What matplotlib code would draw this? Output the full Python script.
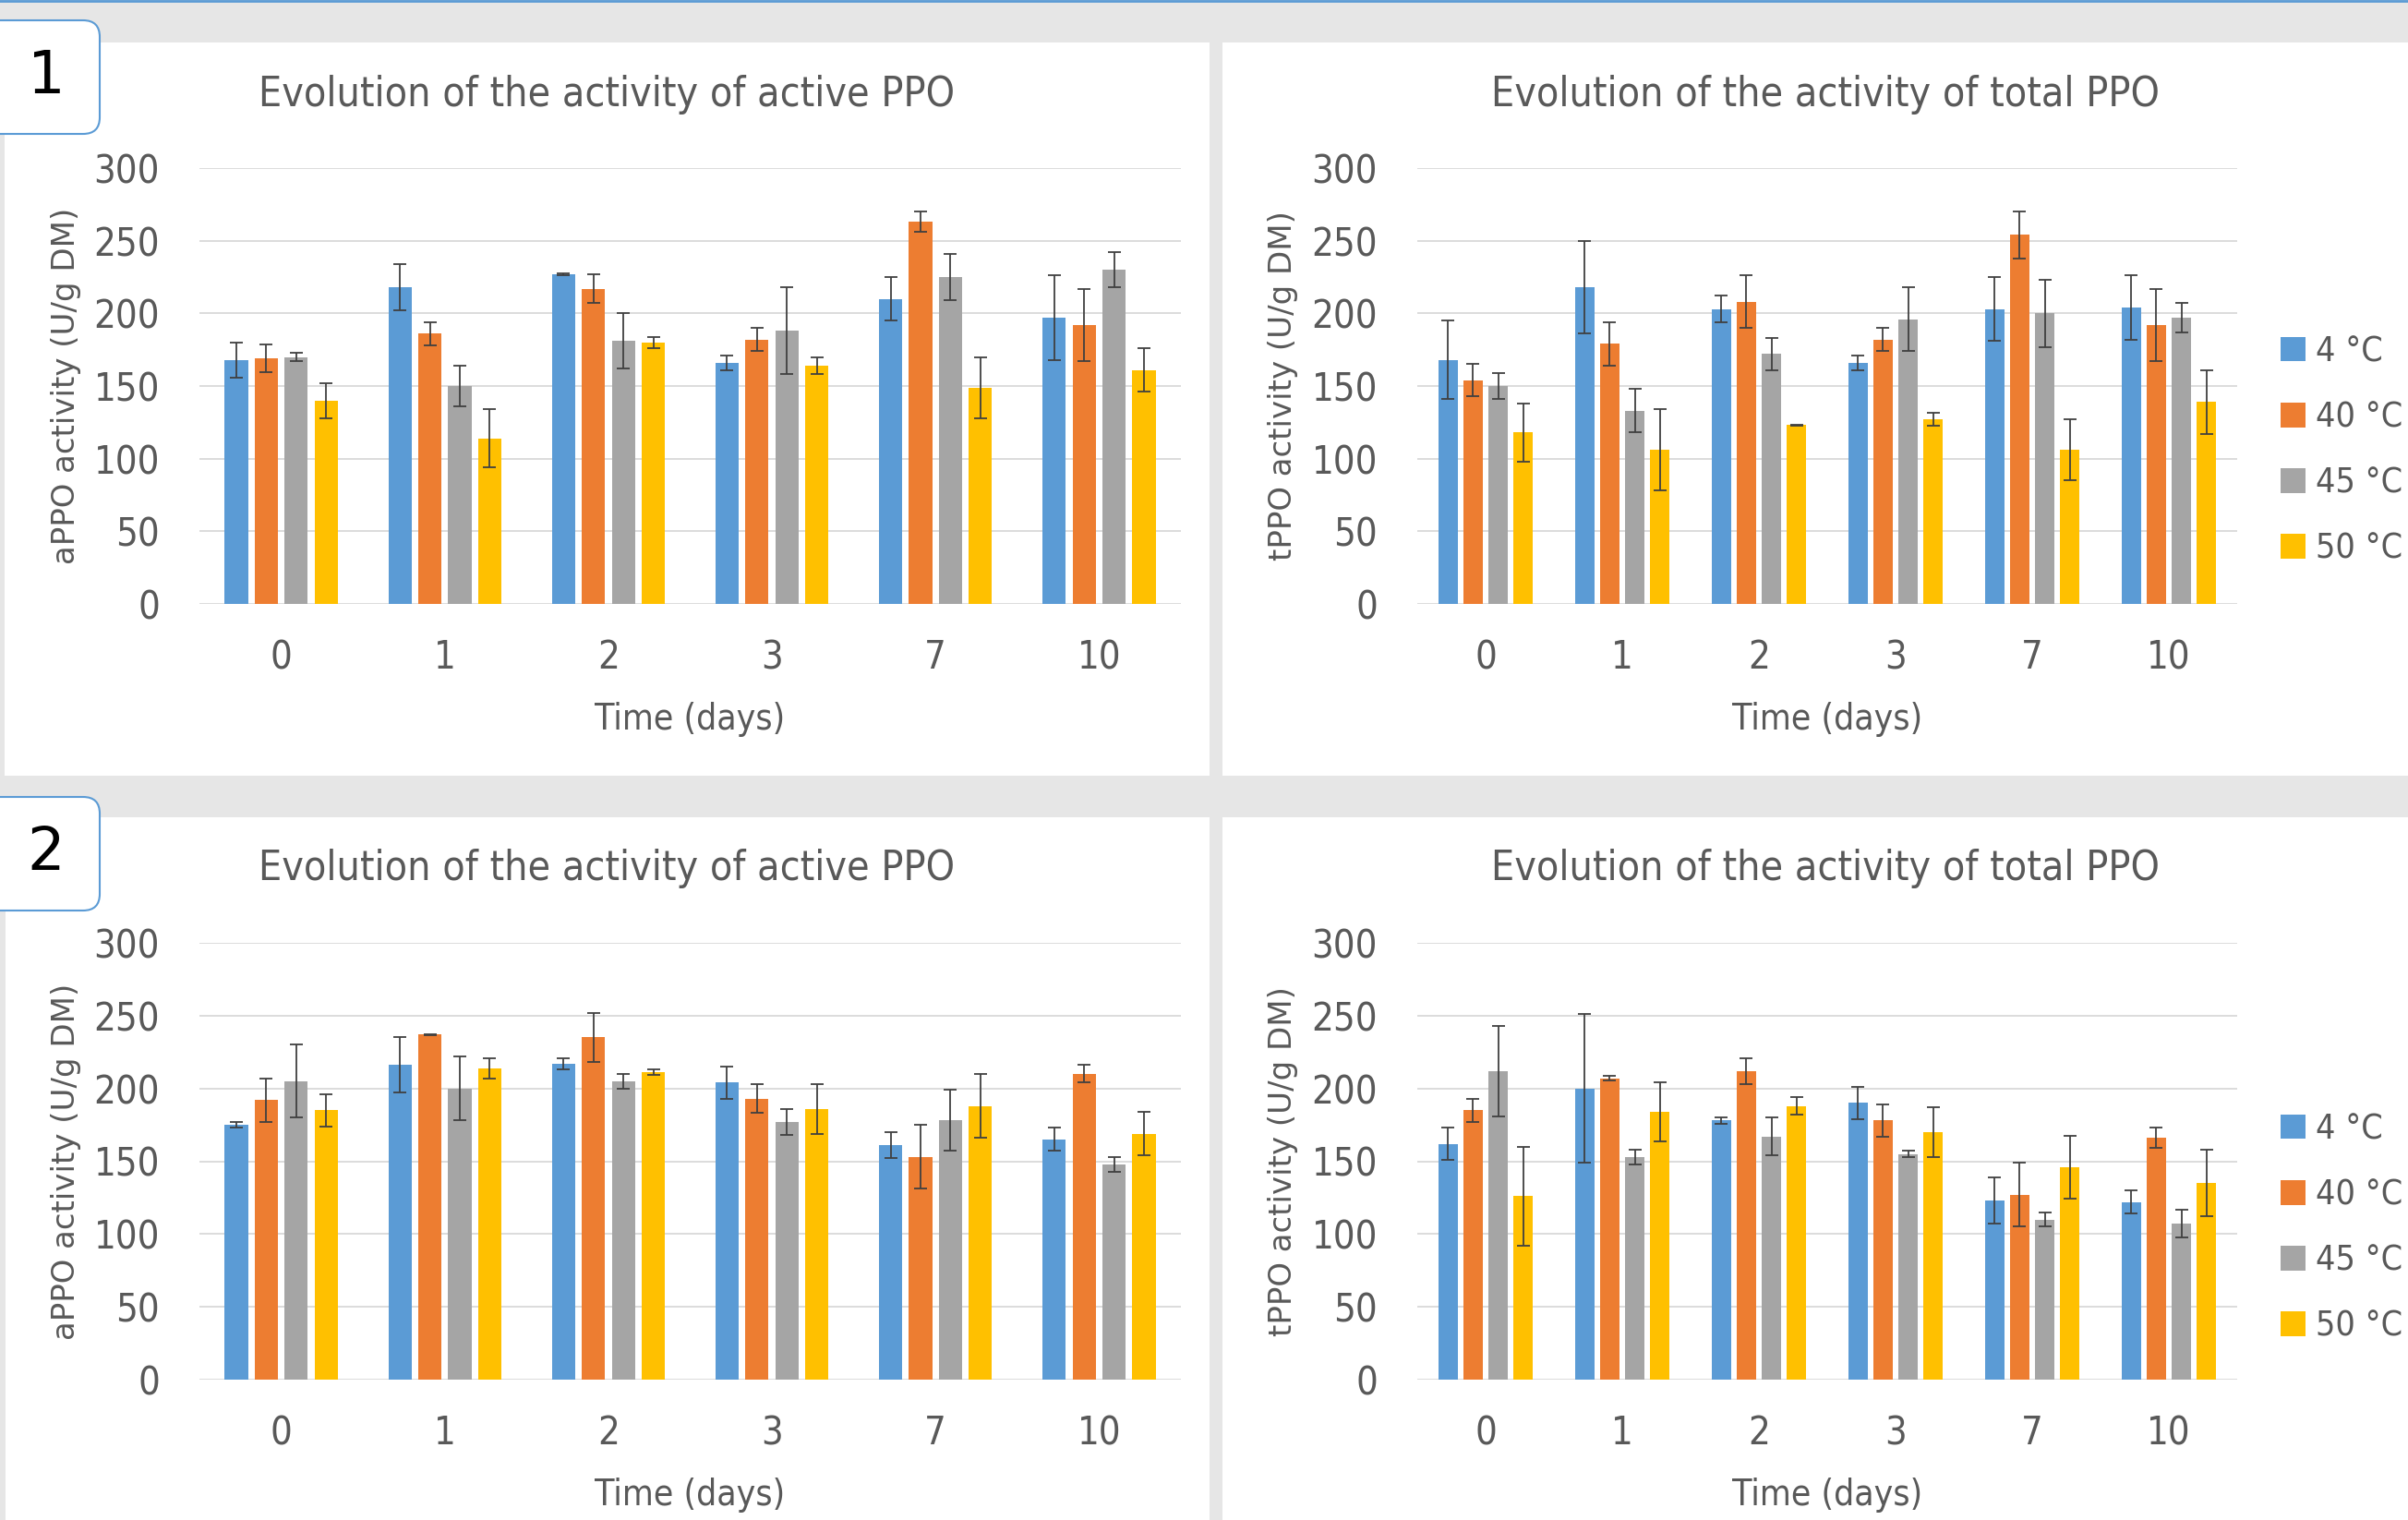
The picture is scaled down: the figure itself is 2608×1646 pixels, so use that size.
import numpy as np
import matplotlib.pyplot as plt
from matplotlib.patches import FancyBboxPatch, Rectangle, Patch
from matplotlib.lines import Line2D
from matplotlib.transforms import IdentityTransform

plt.rcParams['font.family'] = ['DejaVu Sans']
plt.rcParams['font.stretch'] = 'condensed'

days = ['0', '1', '2', '3', '7', '10']
temps = ['4 °C', '40 °C', '45 °C', '50 °C']
colors = ['#5B9BD5', '#ED7D31', '#A5A5A5', '#FFC000']

# experiment 1, active PPO (one row per temperature)
a1_mean = [[168, 218, 227, 166, 210, 197],
           [169, 186, 217, 182, 263, 192],
           [170, 150, 181, 188, 225, 230],
           [140, 114, 180, 164, 149, 161]]
a1_err = [[12, 16, 0.5, 5, 15, 29],
          [9.5, 8, 10, 8, 7, 25],
          [3, 14, 19, 30, 16, 12],
          [12, 20, 4, 6, 21, 15]]

# experiment 1, total PPO
t1_mean = [[168, 218, 203, 166, 203, 204],
           [154, 179, 208, 182, 254, 192],
           [150, 133, 172, 196, 200, 197],
           [118, 106, 123, 127, 106, 139]]
t1_err = [[27, 32, 9, 5, 22, 22],
          [11, 15, 18, 8, 16, 25],
          [9, 15, 11, 22, 23, 10],
          [20, 28, 0.5, 4.5, 21, 22]]

# experiment 2, active PPO
a2_mean = [[175, 216, 217, 204, 161, 165],
           [192, 237, 235, 193, 153, 210],
           [205, 200, 205, 177, 178, 148],
           [185, 214, 211, 186, 188, 169]]
a2_err = [[2, 19, 4, 11, 9, 8],
          [15, 0.5, 17, 10, 22, 6],
          [25, 22, 5, 9, 21, 5],
          [11, 7, 2, 17, 22, 15]]

# experiment 2, total PPO
t2_mean = [[162, 200, 178, 190, 123, 122],
           [185, 207, 212, 178, 127, 166],
           [212, 153, 167, 155, 110, 107],
           [126, 184, 188, 170, 146, 135]]
t2_err = [[11, 51, 2, 11, 16, 8],
          [8, 1.5, 9, 11, 22, 7],
          [31, 5, 13, 2, 4.5, 9.5],
          [34, 20.5, 6, 17, 21.5, 23]]

W, H = 2608, 1646
fig = plt.figure(figsize=(W / 100, H / 100), dpi=100, facecolor='#E6E6E6')

text_col = '#595959'


def fx(x):
    return x / W


def fy(y):
    # y measured from the top in pixels
    return 1 - y / H


# white chart panels
for (x0, y0, x1, y1) in [(5, 46, 1310, 840), (1324, 46, 2608, 840),
                         (6, 885, 1310, 1646), (1324, 885, 2608, 1646)]:
    fig.add_artist(Rectangle((fx(x0), fy(y1)), fx(x1 - x0), (y1 - y0) / H,
                             transform=fig.transFigure, facecolor='white',
                             edgecolor='none', zorder=0))

fig.add_artist(Line2D([0, 1], [fy(1), fy(1)], transform=fig.transFigure,
                      color='#5B9BD5', lw=2))

# numbered boxes
for num, ytop in [('1', 22), ('2', 863)]:
    box = FancyBboxPatch((-20, H - ytop - 123), 128, 123,
                         boxstyle='round,pad=0,rounding_size=18',
                         transform=IdentityTransform(), facecolor='white',
                         edgecolor='#5B9BD5', lw=1.5, zorder=5)
    fig.add_artist(box)
    fig.text(fx(50), fy(ytop + 61), num, ha='center', va='center',
             fontsize=46, color='black', fontstretch='normal', zorder=6)

panels = [
    ([216, 654, 1063, 472], a1_mean, a1_err, 'Evolution of the activity of active PPO', 'aPPO activity (U/g DM)', 657, 102, -0.136, None),
    ([1535, 654, 888, 472], t1_mean, t1_err, 'Evolution of the activity of total PPO', 'tPPO activity (U/g DM)', 1977, 102, -0.164, 488),
    ([216, 1494, 1063, 473], a2_mean, a2_err, 'Evolution of the activity of active PPO', 'aPPO activity (U/g DM)', 657, 941, -0.136, None),
    ([1535, 1494, 888, 473], t2_mean, t2_err, 'Evolution of the activity of total PPO', 'tPPO activity (U/g DM)', 1977, 941, -0.164, 1330),
]

x = np.arange(len(days))
bar_w = 0.142
step = 0.183

for (left, bottom, w, h), means, errs, title, ylabel, tx, ty, ylx, leg_y in panels:
    ax = fig.add_axes([fx(left), fy(bottom), fx(w), h / H])
    ax.set_facecolor('none')
    handles = []
    for i in range(4):
        ax.bar(x + (i - 1.5) * step, means[i], bar_w, color=colors[i],
               yerr=errs[i], label=temps[i], zorder=3,
               error_kw=dict(ecolor='#404040', elinewidth=1.3,
                             capsize=5, capthick=1.3))
        handles.append(Patch(facecolor=colors[i]))
    ax.set_xlim(-0.5, len(days) - 0.5)
    ax.set_ylim(0, 300)
    ax.set_yticks(np.arange(0, 301, 50))
    ax.set_xticks(x)
    ax.set_xticklabels(days)
    for s in ax.spines.values():
        s.set_visible(False)
    ax.grid(axis='y', color='#D9D9D9', lw=1.3, zorder=0)
    ax.set_axisbelow(True)
    ax.tick_params(axis='both', length=0, labelsize=30, colors=text_col)
    ax.tick_params(axis='y', pad=31)
    ax.tick_params(axis='x', pad=27)
    ax.text(0.5, -125 / h, 'Time (days)', transform=ax.transAxes,
            ha='center', va='center', fontsize=28, color=text_col)
    ax.text(ylx, 0.5, ylabel, transform=ax.transAxes, rotation=90,
            ha='center', va='center', fontsize=24.5, color=text_col,
            fontstretch='normal')
    fig.text(fx(tx), fy(ty), title, ha='center', va='center',
             fontsize=32, color=text_col)
    if leg_y is not None:
        fig.legend(handles, temps, loc='center left',
                   bbox_to_anchor=(fx(2470), fy(leg_y)), frameon=False,
                   fontsize=27, handlelength=0.72, handleheight=0.72,
                   handletextpad=0.3, labelspacing=0.94, borderpad=0,
                   borderaxespad=0, labelcolor=text_col)

fig.savefig('out.png', dpi=100, facecolor=fig.get_facecolor())
